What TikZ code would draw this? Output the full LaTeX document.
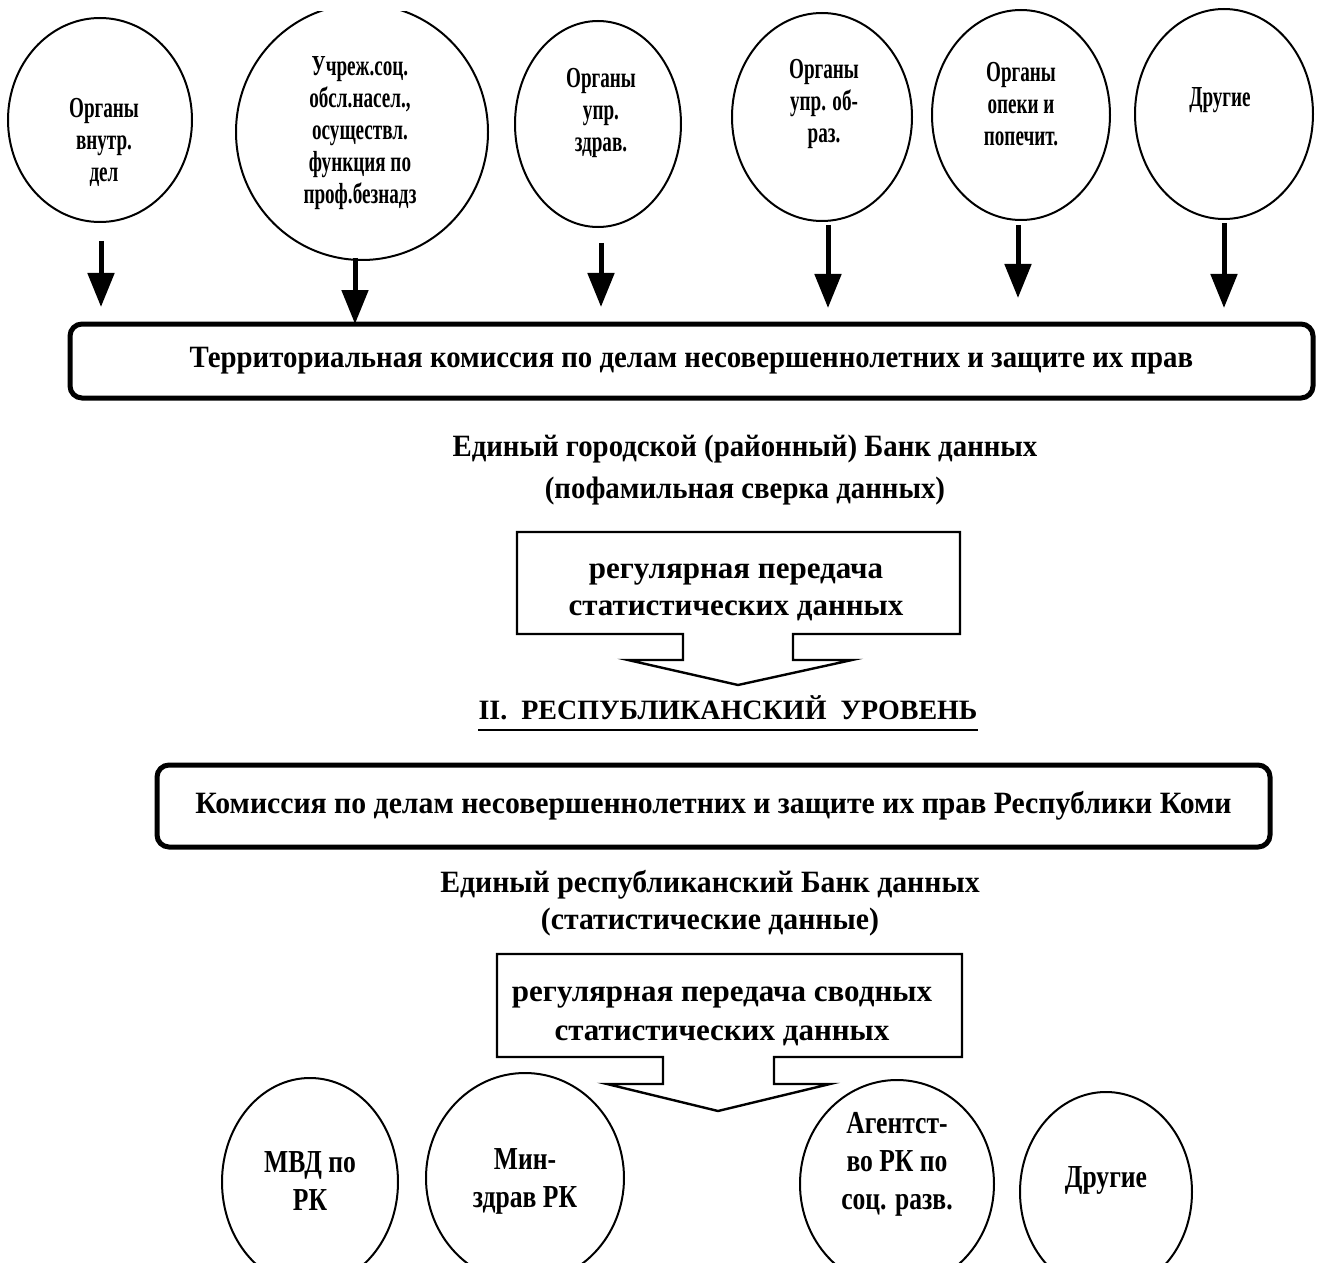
\documentclass[tikz,border=0pt]{standalone}
\usepackage{fontspec}
\setmainfont{Liberation Serif}
\newfontfamily\ovalfont[FakeStretch=0.66]{Liberation Serif}
\newfontfamily\botfont[FakeStretch=0.8]{Liberation Serif}
\newfontfamily\condA[FakeStretch=0.93]{Liberation Serif}
\newfontfamily\condB[FakeStretch=0.96]{Liberation Serif}
\usetikzlibrary{arrows.meta,shapes.geometric}
\begin{document}
\begin{tikzpicture}[x=0.5pt,y=-0.5pt,
  oval/.style={draw,ellipse,line width=1pt,inner sep=0pt,outer sep=0pt},
  otext/.style={align=center,inner sep=0pt,font=\ovalfont\bfseries\fontsize{14.5}{16}\selectfont},
  btext/.style={align=center,inner sep=0pt,font=\botfont\bfseries\fontsize{16}{19}\selectfont},
  atext/.style={align=center,inner sep=0pt,font=\condA\bfseries\fontsize{15.5}{21}\selectfont},
  rtext/.style={align=center,inner sep=0pt,font=\condB\bfseries\fontsize{15.5}{18.5}\selectfont},
  stext/.style={align=center,inner sep=0pt,font=\bfseries\fontsize{15.5}{18.5}\selectfont},
  framebox/.style={draw,line width=2.5pt,rounded corners=6pt,inner sep=0pt},
  feed/.style={line width=2.5pt,-{Triangle[length=17pt,width=13pt]}},
  callout/.style={draw,line width=1.2pt,line join=miter}]
\clip (0,0) rectangle (1319,1263);
\fill[white] (0,0) rectangle (1319,1263);

% top row of ovals
\node[oval,minimum width=92pt,minimum height=102pt] (e1) at (100,120) {};
\begin{scope}
  \clip (0,12) rectangle (1319,320);
  \node[oval,minimum width=126pt,minimum height=128pt] (e2) at (362,132) {};
\end{scope}
\node[oval,minimum width=83pt,minimum height=103pt] (e3) at (598,124) {};
\node[oval,minimum width=90pt,minimum height=104pt] (e4) at (822,117) {};
\node[oval,minimum width=89pt,minimum height=105pt] (e5) at (1021,115) {};
\node[oval,minimum width=89pt,minimum height=105pt] (e6) at (1224,114) {};

\node[otext] (t1) at (104,142) {Органы\\внутр.\\дел};
\node[otext] (t2) at (360,133) {Учреж.соц.\\обсл.насел.,\\осуществл.\\функция по\\проф.безнадз};
\node[otext] (t3) at (601,113) {Органы\\упр.\\здрав.};
\node[otext] (t4) at (824,104) {Органы\\упр. об-\\раз.};
\node[otext] (t5) at (1021,104) {Органы\\опеки и\\попечит.};
\node[otext] (t6) at (1220,100) {Другие};

% territorial commission
\node[framebox,minimum width=621.5pt,minimum height=37pt,atext] (k1) at (691.5,361)
  {Территориальная комиссия по делам несовершеннолетних и защите их прав};

% arrows
\coordinate (a1s) at (101,241);  \coordinate (a1e) at (101,307);
\coordinate (a2s) at (355,258);  \coordinate (a2e) at (355,324);
\coordinate (a3s) at (601,243);  \coordinate (a3e) at (601,307);
\coordinate (a4s) at (828,225);  \coordinate (a4e) at (828,308);
\coordinate (a5s) at (1018,225); \coordinate (a5e) at (1018,298);
\coordinate (a6s) at (1224,223); \coordinate (a6e) at (1224,308);
\draw[feed] (a1s) -- (a1e);
\draw[feed] (a2s) -- (a2e);
\draw[feed] (a3s) -- (a3e);
\draw[feed] (a4s) -- (a4e);
\draw[feed] (a5s) -- (a5e);
\draw[feed] (a6s) -- (a6e);

% city data bank
\node[atext] (bank1) at (745,470) {Единый городской (районный) Банк данных\\(пофамильная сверка данных)};

% callout 1
\draw[callout] (517,532) -- (960,532) -- (960,634) -- (793,634) -- (793,660) -- (852,660)
  -- (738,685) -- (628,660) -- (683,660) -- (683,634) -- (517,634) -- cycle;
\node[stext] (c1) at (736,592) {регулярная передача\\статистических данных};

% level title
\node[stext,font=\bfseries\fontsize{14}{17}\selectfont] (lvl) at (728,708) {II.\ \ РЕСПУБЛИКАНСКИЙ\ \ УРОВЕНЬ};
\draw[line width=1.2pt] ([yshift=-5pt]lvl.base west) -- ([yshift=-5pt]lvl.base east);

% republic commission
\node[framebox,minimum width=556.5pt,minimum height=41pt,rtext] (k2) at (713.5,806)
  {Комиссия по делам несовершеннолетних и защите их прав Республики Коми};

\node[rtext] (bank2) at (710,903) {Единый республиканский Банк данных\\(статистические данные)};

% callout 2
\draw[callout] (497,954) -- (962,954) -- (962,1057) -- (774,1057) -- (774,1084) -- (830,1084)
  -- (718,1111) -- (607,1084) -- (663,1084) -- (663,1057) -- (497,1057) -- cycle;
\node[stext,font=\bfseries\fontsize{15.5}{19.5}\selectfont] (c2) at (722,1016) {регулярная передача сводных\\статистических данных};

% bottom row of ovals
\node[oval,minimum width=88pt,minimum height=104pt] (b1) at (310,1182) {};
\node[oval,minimum width=99pt,minimum height=105pt] (b2) at (525,1178) {};
\node[oval,minimum width=97pt,minimum height=104pt] (b3) at (897,1184) {};
\node[oval,minimum width=86pt,minimum height=100pt] (b4) at (1106,1192) {};

\node[btext] (u1) at (310,1181) {МВД по\\РК};
\node[btext] (u2) at (525,1181) {Мин-\\здрав РК};
\node[btext] (u3) at (897,1164) {Агентст-\\во РК по\\соц. разв.};
\node[btext] (u4) at (1106,1180) {Другие};
\end{tikzpicture}
\end{document}
